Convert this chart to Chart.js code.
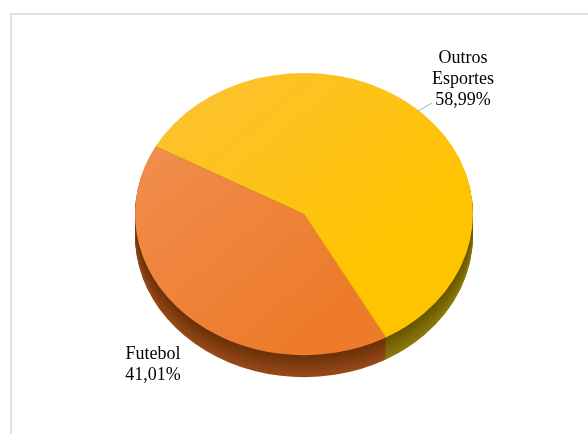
<!DOCTYPE html>
<html>
<head>
<meta charset="utf-8">
<script src="https://cdn.jsdelivr.net/npm/chart.js@4"></script>
<style>
  html, body { margin: 0; padding: 0; background: #fff; }
  body { width: 588px; height: 434px; position: relative; overflow: hidden; }
  #frame {
    position: absolute; left: 10px; top: 13px; width: 600px; height: 450px;
    border: 2px solid #dde2ea; box-sizing: border-box;
  }
  #pie { position: absolute; left: 0; top: 0; }
</style>
</head>
<body>
<div id="frame"></div>
<canvas id="pie" width="588" height="434"></canvas>
<script>
const categories = ["Futebol", "Outros Esportes"];
const percents = [41.01, 58.99];

// top face and side colours, one per slice
const topLight = ["#f29255", "#fbc136"];
const topDark = ["#ed7b2b", "#ffc400"];
const sideTop = ["#6c3208", "#665600"];
const sideBottom = ["#97491a", "#8c7a0c"];

const TILT = 0.835;   // vertical squash of the disc
const DEPTH = 22;     // thickness of the disc in px
const CAPTION_FONT = '18px "Liberation Serif"';

const fmt = (v) => v.toFixed(2).replace(".", ",") + "%";

const mix = (a, b, t) => {
  const pa = parseInt(a.slice(1), 16), pb = parseInt(b.slice(1), 16);
  const ch = (p, s) => (p >> s) & 255;
  const c = [16, 8, 0].map((s) => Math.round(ch(pa, s) + (ch(pb, s) - ch(pa, s)) * t));
  return `rgb(${c[0]},${c[1]},${c[2]})`;
};

const faceColor = (context) => {
  const { chart, dataIndex } = context;
  const area = chart.chartArea;
  if (!area) return topDark[dataIndex];
  const g = chart.ctx.createLinearGradient(area.left, area.top, area.right, area.bottom);
  g.addColorStop(0, topLight[dataIndex]);
  g.addColorStop(0.7, topDark[dataIndex]);
  return g;
};

// squash the pie into an ellipse and paint the rim underneath it
const tiltPlugin = {
  id: "tilt",
  beforeDatasetsDraw(chart) {
    const ctx = chart.ctx;
    const arcs = chart.getDatasetMeta(0).data;
    const cy = arcs[0].y;
    ctx.save();
    ctx.translate(0, cy);
    ctx.scale(1, TILT);
    ctx.translate(0, -cy);
    for (let i = DEPTH; i >= 1; i--) {
      const t = (i - 1) / (DEPTH - 1);
      ctx.save();
      ctx.translate(0, i / TILT);
      arcs.forEach((arc, j) => {
        const side = Object.create(arc);
        side.options = Object.assign({}, arc.options, {
          backgroundColor: mix(sideTop[j], sideBottom[j], t),
          borderWidth: 0,
        });
        arc.draw.call(side, ctx);
      });
      ctx.restore();
    }
  },
  afterDatasetsDraw(chart) {
    chart.ctx.restore();
  },
};

// slice captions
const captionPlugin = {
  id: "captions",
  afterDraw(chart) {
    const ctx = chart.ctx;
    const spots = [
      { x: 153, y: 359 },
      { x: 463, y: 63 },
    ];
    ctx.save();
    ctx.font = CAPTION_FONT;
    ctx.fillStyle = "#000";
    ctx.textAlign = "center";
    ctx.textBaseline = "alphabetic";
    categories.forEach((name, i) => {
      const lines = name.split(" ").concat(fmt(percents[i]));
      lines.forEach((line, k) => ctx.fillText(line, spots[i].x, spots[i].y + k * 21));
    });
    // leader line for the big slice
    ctx.strokeStyle = "#9fb4ca";
    ctx.lineWidth = 1;
    ctx.beginPath();
    ctx.moveTo(418, 111);
    ctx.lineTo(432, 103);
    ctx.stroke();
    ctx.restore();
  },
};

const draw = () => {
  new Chart(document.getElementById("pie"), {
    type: "pie",
    data: {
      labels: categories,
      datasets: [
        {
          data: percents,
          backgroundColor: faceColor,
          borderWidth: 0,
          clip: false,
        },
      ],
    },
    options: {
      responsive: false,
      animation: false,
      events: [],
      rotation: 151,
      layout: { padding: { left: 135, right: 115, top: 45, bottom: 51 } },
      plugins: {
        legend: { display: false },
        tooltip: { enabled: false },
      },
    },
    plugins: [tiltPlugin, captionPlugin],
  });
};

document.fonts.load(CAPTION_FONT).then(draw, draw);
</script>
</body>
</html>
